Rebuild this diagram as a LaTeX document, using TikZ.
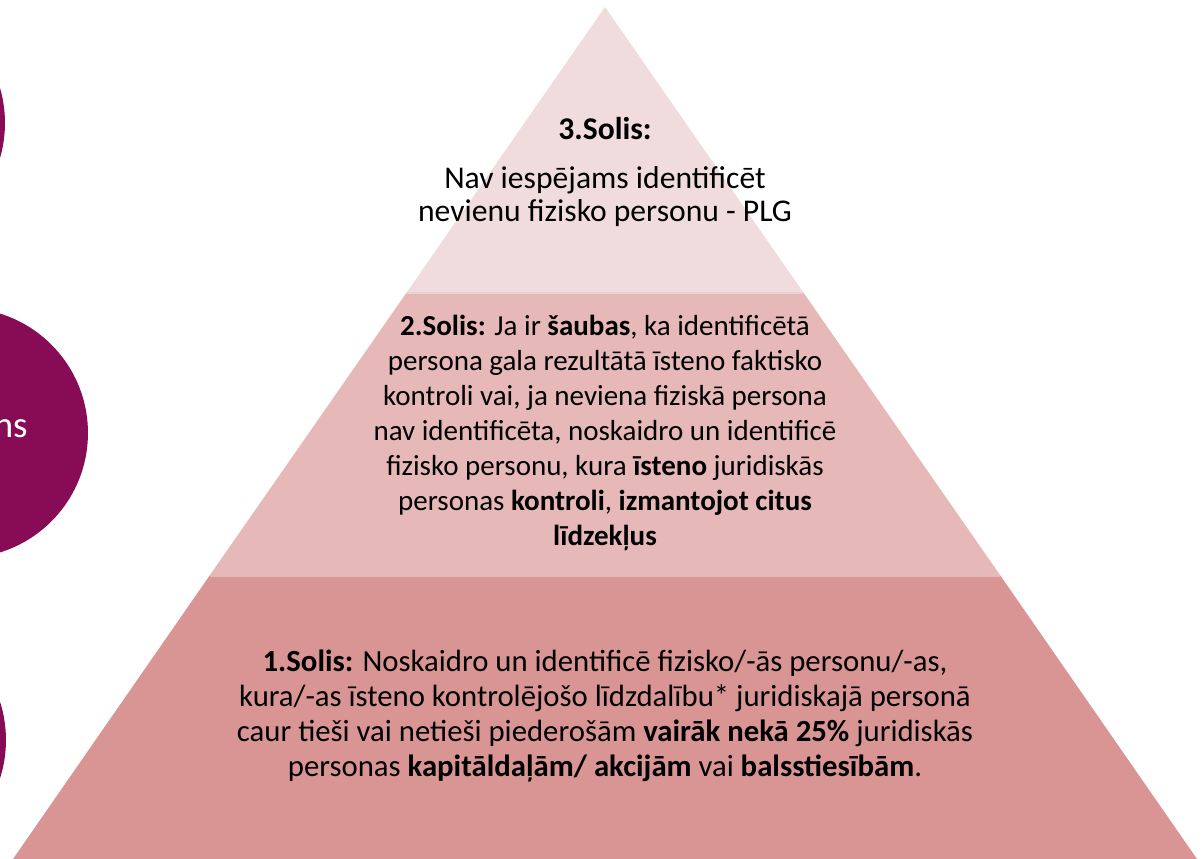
\documentclass[tikz,border=0pt]{standalone}
\usepackage{fontspec}
\setmainfont{Carlito}
\definecolor{purp}{HTML}{870C55}
\definecolor{layerTop}{HTML}{F0DCDC}
\definecolor{layerMid}{HTML}{E6B8B8}
\definecolor{layerLow}{HTML}{D99594}

\begin{document}
\begin{tikzpicture}[x=0.02cm, y=-0.02cm,
    circle_style/.style={circle, fill=purp, minimum size=5cm, inner sep=0pt},
    layer_text/.style={align=center, text=black, font=\fontsize{16.5}{20}\selectfont}]
    \useasboundingbox (0,0) rectangle (1204,859);
    \clip (0,0) rectangle (1204,859);

    % circles on the left
    \node[circle_style] (c1) at (-120,123) {};
    \node[circle_style] (c2) at (-37,433) {};
    \node[circle_style] (c3) at (-119,740) {};
    \node[anchor=base east, inner sep=0pt, text=white, font=\fontsize{21}{24}\selectfont] (c2text) at (28,437) {ns};

    % pyramid layers
    \fill[layerTop] (605,7) -- (803,292) -- (407,292) -- cycle;
    \fill[layerMid] (407,292) -- (803,292) -- (1000,575) -- (210,575) -- cycle;
    \fill[layerLow] (210,575) -- (1000,575) -- (1197,859) -- (13,859) -- cycle;
    \draw[white, opacity=0.35, line width=1pt] (407,293) -- (803,293);
    \draw[white, opacity=0.35, line width=1pt] (210,576) -- (1000,576);

    \node[layer_text, font=\fontsize{18}{19}\selectfont] (step3) at (605,172)
        {\textbf{3.Solis:}\\[9pt] Nav iespējams identificēt\\ nevienu fizisko personu - PLG};
    \node[layer_text] (step2) at (605,433)
        {\textbf{2.Solis:} Ja ir \textbf{šaubas}, ka identificētā\\
         persona gala rezultātā īsteno faktisko\\
         kontroli vai, ja neviena fiziskā persona\\
         nav identificēta, noskaidro un identificē\\
         fizisko personu, kura \textbf{īsteno} juridiskās\\
         personas \textbf{kontroli}, \textbf{izmantojot citus}\\
         \textbf{līdzekļus}};
    \node[layer_text, font=\fontsize{17.5}{20}\selectfont] (step1) at (605,716)
        {\textbf{1.Solis:} Noskaidro un identificē fizisko/-ās personu/-as,\\
         kura/-as īsteno kontrolējošo līdzdalību* juridiskajā personā\\
         caur tieši vai netieši piederošām \textbf{vairāk nekā 25\%} juridiskās\\
         personas \textbf{kapitāldaļām/ akcijām} vai \textbf{balsstiesībām}.};
\end{tikzpicture}
\end{document}
